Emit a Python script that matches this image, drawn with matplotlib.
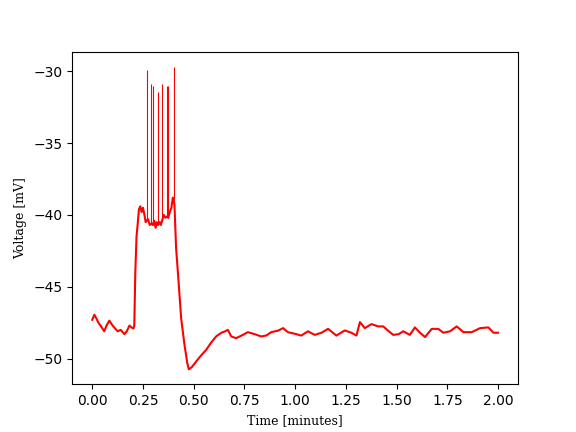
import matplotlib
matplotlib.use("Agg")
import matplotlib.pyplot as plt

# membrane trace (time in minutes, voltage in mV)
tiempo = [
    0.000, 0.010, 0.020, 0.030, 0.045, 0.059, 0.070, 0.084, 0.100, 0.112,
    0.125, 0.140, 0.158, 0.170, 0.183, 0.195, 0.203,
    0.207, 0.212, 0.218, 0.224, 0.230, 0.237, 0.243, 0.250, 0.257, 0.263,
    0.268, 0.275, 0.283, 0.291, 0.298, 0.305, 0.312, 0.318, 0.324, 0.332,
    0.338, 0.344, 0.352, 0.360, 0.369, 0.374, 0.382, 0.390, 0.397, 0.401,
    0.405, 0.413, 0.425, 0.438, 0.454, 0.468, 0.476, 0.490, 0.512, 0.535,
    0.561, 0.585, 0.611, 0.636, 0.655, 0.668, 0.685, 0.709, 0.742, 0.767,
    0.800, 0.833, 0.858, 0.882, 0.915, 0.940, 0.964, 1.006, 1.030, 1.063,
    1.096, 1.130, 1.162, 1.203, 1.244, 1.277, 1.302, 1.319, 1.343, 1.376,
    1.409, 1.434, 1.458, 1.483, 1.510, 1.532, 1.565, 1.590, 1.615, 1.640,
    1.673, 1.705, 1.730, 1.763, 1.796, 1.829, 1.870, 1.911, 1.952, 1.977,
    2.000,
]
voltaje = [
    -47.3, -46.95, -47.2, -47.5, -47.8, -48.1, -47.7, -47.36, -47.7, -47.9,
    -48.1, -48.0, -48.3, -48.1, -47.7, -47.85, -47.9,
    -47.7, -44.0, -41.5, -40.6, -39.6, -39.4, -39.8, -39.5, -40.0, -40.5,
    -40.4, -40.3, -40.7, -40.6, -40.7, -40.4, -40.9, -40.5, -40.7, -40.5,
    -40.7, -40.4, -40.0, -40.2, -40.1, -40.2, -39.8, -39.5, -38.8, -38.9,
    -39.3, -42.3, -44.6, -47.2, -49.0, -50.3, -50.75, -50.6, -50.2, -49.8,
    -49.4, -48.9, -48.45, -48.2, -48.1, -48.0, -48.46, -48.58, -48.35, -48.16,
    -48.3, -48.46, -48.39, -48.16, -48.06, -47.88, -48.16, -48.3, -48.4, -48.1,
    -48.35, -48.2, -47.93, -48.4, -48.04, -48.2, -48.4, -47.46, -47.88, -47.6,
    -47.76, -47.76, -48.06, -48.35, -48.3, -48.1, -48.35, -47.83, -48.2, -48.5,
    -47.93, -47.93, -48.2, -48.1, -47.76, -48.16, -48.16, -47.88, -47.83, -48.2,
    -48.2,
]

# action potentials: time, foot and peak voltage
spike_tiempo = [0.268, 0.291, 0.298, 0.324, 0.344, 0.369, 0.374, 0.401]
spike_base = [-40.4, -40.6, -40.7, -40.7, -40.4, -40.1, -40.2, -38.9]
spike_pico = [-29.93, -30.9, -31.0, -31.45, -30.9, -31.05, -31.05, -29.7]

fig, ax = plt.subplots(figsize=(5.76, 4.32), dpi=100)
ax.plot(tiempo, voltaje, color="red", linewidth=1.5)
ax.vlines(spike_tiempo, spike_base, spike_pico, color="red", linewidth=0.8)

ax.set_xticks([0.0, 0.25, 0.5, 0.75, 1.0, 1.25, 1.5, 1.75, 2.0])
ax.set_xlabel("Time [minutes]", family="DejaVu Serif", fontsize=9)
ax.set_ylabel("Voltage [mV]", family="DejaVu Serif", fontsize=9)

plt.savefig("out.png", dpi=100)
